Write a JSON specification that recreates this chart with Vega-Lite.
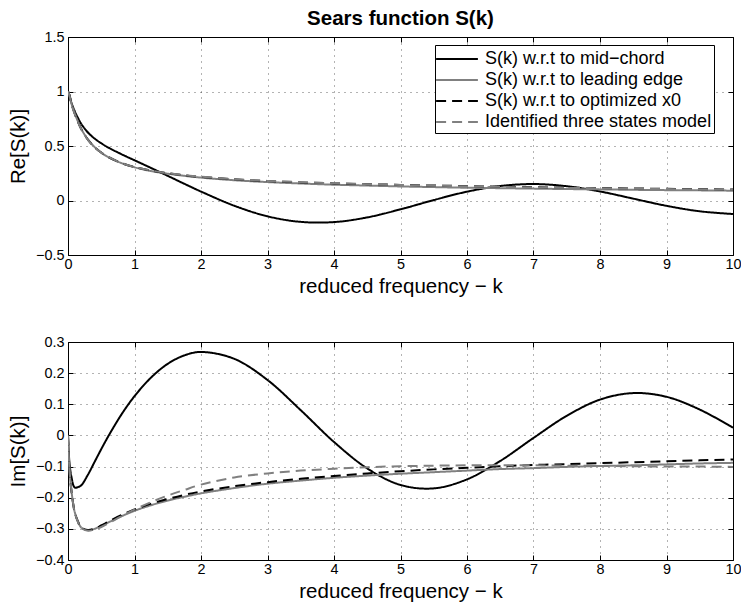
{
  "$schema": "https://vega.github.io/schema/vega-lite/v6.json",
  "padding": {"left": 8, "top": 8, "right": 5, "bottom": 2},
  "background": "white",
  "config": {
    "font": "Liberation Sans",
    "view": {"stroke": "black", "strokeWidth": 1},
    "axis": {
      "labelFont": "Liberation Sans", "labelFontSize": 14.4, "labelColor": "black",
      "titleFont": "Liberation Sans", "titleFontSize": 20.5, "titleFontWeight": "normal", "titleColor": "black",
      "tickColor": "black", "tickSize": -5, "tickWidth": 1, "domain": false,
      "gridColor": "black", "gridDash": [1, 5], "gridOpacity": 0.6, "gridWidth": 1,
      "labelFlush": false, "labelOverlap": false, "labelBound": false
    },
    "axisX": {"labelPadding": 7, "titlePadding": 6},
    "axisY": {"labelPadding": 9, "titlePadding": 7},
    "concat": {"spacing": 35}
  },
  "datasets": {
    "sears": [
      {"k":0,"s":"S(k) w.r.t to mid−chord","re":1,"im":0},
      {"k":0.02,"s":"S(k) w.r.t to mid−chord","re":0.971,"im":-0.083},
      {"k":0.05,"s":"S(k) w.r.t to mid−chord","re":0.901,"im":-0.131},
      {"k":0.1,"s":"S(k) w.r.t to mid−chord","re":0.821,"im":-0.167},
      {"k":0.15,"s":"S(k) w.r.t to mid−chord","re":0.757,"im":-0.166},
      {"k":0.2,"s":"S(k) w.r.t to mid−chord","re":0.702,"im":-0.160},
      {"k":0.3,"s":"S(k) w.r.t to mid−chord","re":0.624,"im":-0.126},
      {"k":0.4,"s":"S(k) w.r.t to mid−chord","re":0.568,"im":-0.085},
      {"k":0.5,"s":"S(k) w.r.t to mid−chord","re":0.525,"im":-0.044},
      {"k":0.6,"s":"S(k) w.r.t to mid−chord","re":0.488,"im":-0.005},
      {"k":0.8,"s":"S(k) w.r.t to mid−chord","re":0.426,"im":0.066},
      {"k":1,"s":"S(k) w.r.t to mid−chord","re":0.369,"im":0.126},
      {"k":1.25,"s":"S(k) w.r.t to mid−chord","re":0.298,"im":0.186},
      {"k":1.5,"s":"S(k) w.r.t to mid−chord","re":0.226,"im":0.230},
      {"k":1.75,"s":"S(k) w.r.t to mid−chord","re":0.153,"im":0.257},
      {"k":2,"s":"S(k) w.r.t to mid−chord","re":0.082,"im":0.268},
      {"k":2.5,"s":"S(k) w.r.t to mid−chord","re":-0.048,"im":0.246},
      {"k":3,"s":"S(k) w.r.t to mid−chord","re":-0.145,"im":0.178},
      {"k":3.5,"s":"S(k) w.r.t to mid−chord","re":-0.196,"im":0.081},
      {"k":4,"s":"S(k) w.r.t to mid−chord","re":-0.198,"im":-0.021},
      {"k":4.5,"s":"S(k) w.r.t to mid−chord","re":-0.155,"im":-0.106},
      {"k":5,"s":"S(k) w.r.t to mid−chord","re":-0.081,"im":-0.159},
      {"k":5.5,"s":"S(k) w.r.t to mid−chord","re":0.004,"im":-0.170},
      {"k":6,"s":"S(k) w.r.t to mid−chord","re":0.081,"im":-0.141},
      {"k":6.5,"s":"S(k) w.r.t to mid−chord","re":0.133,"im":-0.082},
      {"k":7,"s":"S(k) w.r.t to mid−chord","re":0.151,"im":-0.008},
      {"k":7.5,"s":"S(k) w.r.t to mid−chord","re":0.131,"im":0.063},
      {"k":8,"s":"S(k) w.r.t to mid−chord","re":0.083,"im":0.115},
      {"k":8.5,"s":"S(k) w.r.t to mid−chord","re":0.017,"im":0.136},
      {"k":9,"s":"S(k) w.r.t to mid−chord","re":-0.049,"im":0.124},
      {"k":9.5,"s":"S(k) w.r.t to mid−chord","re":-0.099,"im":0.083},
      {"k":10,"s":"S(k) w.r.t to mid−chord","re":-0.124,"im":0.025},

      {"k":0,"s":"S(k) w.r.t to leading edge","re":1,"im":0},
      {"k":0.02,"s":"S(k) w.r.t to leading edge","re":0.969,"im":-0.102},
      {"k":0.05,"s":"S(k) w.r.t to leading edge","re":0.894,"im":-0.175},
      {"k":0.1,"s":"S(k) w.r.t to leading edge","re":0.801,"im":-0.245},
      {"k":0.15,"s":"S(k) w.r.t to leading edge","re":0.724,"im":-0.276},
      {"k":0.2,"s":"S(k) w.r.t to leading edge","re":0.656,"im":-0.296},
      {"k":0.3,"s":"S(k) w.r.t to leading edge","re":0.559,"im":-0.304},
      {"k":0.4,"s":"S(k) w.r.t to leading edge","re":0.490,"im":-0.300},
      {"k":0.5,"s":"S(k) w.r.t to leading edge","re":0.439,"im":-0.290},
      {"k":0.6,"s":"S(k) w.r.t to leading edge","re":0.400,"im":-0.280},
      {"k":0.8,"s":"S(k) w.r.t to leading edge","re":0.344,"im":-0.260},
      {"k":1,"s":"S(k) w.r.t to leading edge","re":0.305,"im":-0.242},
      {"k":1.25,"s":"S(k) w.r.t to leading edge","re":0.270,"im":-0.224},
      {"k":1.5,"s":"S(k) w.r.t to leading edge","re":0.246,"im":-0.209},
      {"k":1.75,"s":"S(k) w.r.t to leading edge","re":0.226,"im":-0.197},
      {"k":2,"s":"S(k) w.r.t to leading edge","re":0.210,"im":-0.186},
      {"k":2.5,"s":"S(k) w.r.t to leading edge","re":0.186,"im":-0.169},
      {"k":3,"s":"S(k) w.r.t to leading edge","re":0.169,"im":-0.155},
      {"k":3.5,"s":"S(k) w.r.t to leading edge","re":0.156,"im":-0.145},
      {"k":4,"s":"S(k) w.r.t to leading edge","re":0.145,"im":-0.136},
      {"k":4.5,"s":"S(k) w.r.t to leading edge","re":0.137,"im":-0.129},
      {"k":5,"s":"S(k) w.r.t to leading edge","re":0.129,"im":-0.123},
      {"k":5.5,"s":"S(k) w.r.t to leading edge","re":0.123,"im":-0.118},
      {"k":6,"s":"S(k) w.r.t to leading edge","re":0.117,"im":-0.113},
      {"k":6.5,"s":"S(k) w.r.t to leading edge","re":0.113,"im":-0.108},
      {"k":7,"s":"S(k) w.r.t to leading edge","re":0.109,"im":-0.105},
      {"k":7.5,"s":"S(k) w.r.t to leading edge","re":0.105,"im":-0.101},
      {"k":8,"s":"S(k) w.r.t to leading edge","re":0.102,"im":-0.098},
      {"k":8.5,"s":"S(k) w.r.t to leading edge","re":0.098,"im":-0.096},
      {"k":9,"s":"S(k) w.r.t to leading edge","re":0.095,"im":-0.093},
      {"k":9.5,"s":"S(k) w.r.t to leading edge","re":0.093,"im":-0.090},
      {"k":10,"s":"S(k) w.r.t to leading edge","re":0.090,"im":-0.088},

      {"k":0,"s":"S(k) w.r.t to optimized x0","re":1,"im":0},
      {"k":0.02,"s":"S(k) w.r.t to optimized x0","re":0.968,"im":-0.101},
      {"k":0.05,"s":"S(k) w.r.t to optimized x0","re":0.892,"im":-0.175},
      {"k":0.1,"s":"S(k) w.r.t to optimized x0","re":0.799,"im":-0.245},
      {"k":0.15,"s":"S(k) w.r.t to optimized x0","re":0.722,"im":-0.277},
      {"k":0.2,"s":"S(k) w.r.t to optimized x0","re":0.655,"im":-0.296},
      {"k":0.3,"s":"S(k) w.r.t to optimized x0","re":0.558,"im":-0.304},
      {"k":0.4,"s":"S(k) w.r.t to optimized x0","re":0.490,"im":-0.299},
      {"k":0.5,"s":"S(k) w.r.t to optimized x0","re":0.440,"im":-0.289},
      {"k":0.6,"s":"S(k) w.r.t to optimized x0","re":0.401,"im":-0.278},
      {"k":0.8,"s":"S(k) w.r.t to optimized x0","re":0.345,"im":-0.256},
      {"k":1,"s":"S(k) w.r.t to optimized x0","re":0.307,"im":-0.238},
      {"k":1.25,"s":"S(k) w.r.t to optimized x0","re":0.274,"im":-0.219},
      {"k":1.5,"s":"S(k) w.r.t to optimized x0","re":0.250,"im":-0.204},
      {"k":1.75,"s":"S(k) w.r.t to optimized x0","re":0.231,"im":-0.191},
      {"k":2,"s":"S(k) w.r.t to optimized x0","re":0.216,"im":-0.180},
      {"k":2.5,"s":"S(k) w.r.t to optimized x0","re":0.194,"im":-0.163},
      {"k":3,"s":"S(k) w.r.t to optimized x0","re":0.178,"im":-0.150},
      {"k":3.5,"s":"S(k) w.r.t to optimized x0","re":0.166,"im":-0.139},
      {"k":4,"s":"S(k) w.r.t to optimized x0","re":0.157,"im":-0.130},
      {"k":4.5,"s":"S(k) w.r.t to optimized x0","re":0.150,"im":-0.122},
      {"k":5,"s":"S(k) w.r.t to optimized x0","re":0.143,"im":-0.115},
      {"k":5.5,"s":"S(k) w.r.t to optimized x0","re":0.137,"im":-0.109},
      {"k":6,"s":"S(k) w.r.t to optimized x0","re":0.132,"im":-0.104},
      {"k":6.5,"s":"S(k) w.r.t to optimized x0","re":0.127,"im":-0.099},
      {"k":7,"s":"S(k) w.r.t to optimized x0","re":0.122,"im":-0.095},
      {"k":7.5,"s":"S(k) w.r.t to optimized x0","re":0.118,"im":-0.092},
      {"k":8,"s":"S(k) w.r.t to optimized x0","re":0.114,"im":-0.089},
      {"k":8.5,"s":"S(k) w.r.t to optimized x0","re":0.110,"im":-0.086},
      {"k":9,"s":"S(k) w.r.t to optimized x0","re":0.107,"im":-0.083},
      {"k":9.5,"s":"S(k) w.r.t to optimized x0","re":0.104,"im":-0.080},
      {"k":10,"s":"S(k) w.r.t to optimized x0","re":0.101,"im":-0.077},

      {"k":0,"s":"Identified three states model","re":1,"im":0},
      {"k":0.02,"s":"Identified three states model","re":0.967,"im":-0.100},
      {"k":0.05,"s":"Identified three states model","re":0.890,"im":-0.174},
      {"k":0.1,"s":"Identified three states model","re":0.797,"im":-0.246},
      {"k":0.15,"s":"Identified three states model","re":0.721,"im":-0.278},
      {"k":0.2,"s":"Identified three states model","re":0.654,"im":-0.297},
      {"k":0.3,"s":"Identified three states model","re":0.557,"im":-0.306},
      {"k":0.4,"s":"Identified three states model","re":0.489,"im":-0.302},
      {"k":0.5,"s":"Identified three states model","re":0.439,"im":-0.294},
      {"k":0.6,"s":"Identified three states model","re":0.401,"im":-0.283},
      {"k":0.8,"s":"Identified three states model","re":0.345,"im":-0.260},
      {"k":1,"s":"Identified three states model","re":0.307,"im":-0.238},
      {"k":1.25,"s":"Identified three states model","re":0.275,"im":-0.214},
      {"k":1.5,"s":"Identified three states model","re":0.251,"im":-0.193},
      {"k":1.75,"s":"Identified three states model","re":0.233,"im":-0.175},
      {"k":2,"s":"Identified three states model","re":0.218,"im":-0.158},
      {"k":2.5,"s":"Identified three states model","re":0.196,"im":-0.135},
      {"k":3,"s":"Identified three states model","re":0.180,"im":-0.122},
      {"k":3.5,"s":"Identified three states model","re":0.168,"im":-0.113},
      {"k":4,"s":"Identified three states model","re":0.158,"im":-0.107},
      {"k":4.5,"s":"Identified three states model","re":0.150,"im":-0.102},
      {"k":5,"s":"Identified three states model","re":0.143,"im":-0.099},
      {"k":5.5,"s":"Identified three states model","re":0.136,"im":-0.097},
      {"k":6,"s":"Identified three states model","re":0.130,"im":-0.096},
      {"k":6.5,"s":"Identified three states model","re":0.125,"im":-0.096},
      {"k":7,"s":"Identified three states model","re":0.120,"im":-0.096},
      {"k":7.5,"s":"Identified three states model","re":0.116,"im":-0.097},
      {"k":8,"s":"Identified three states model","re":0.112,"im":-0.098},
      {"k":8.5,"s":"Identified three states model","re":0.108,"im":-0.099},
      {"k":9,"s":"Identified three states model","re":0.105,"im":-0.100},
      {"k":9.5,"s":"Identified three states model","re":0.102,"im":-0.100},
      {"k":10,"s":"Identified three states model","re":0.099,"im":-0.101}
    ]
  },
  "vconcat": [
    {
      "width": 665,
      "height": 218,
      "title": {"text": "Sears function S(k)", "fontSize": 20.5, "fontWeight": "bold", "font": "Liberation Sans", "anchor": "middle", "frame": "group", "offset": 0, "color": "black"},
      "data": {"name": "sears"},
      "layer": [
        {
          "mark": {"type": "line", "strokeWidth": 2, "interpolate": "catmull-rom", "clip": true},
          "encoding": {
            "x": {"field": "k", "type": "quantitative", "scale": {"domain": [0, 10], "nice": false},
                  "axis": {"orient": "bottom", "values": [0,1,2,3,4,5,6,7,8,9,10], "format": "d", "title": "reduced frequency − k", "grid": true}},
            "y": {"field": "re", "type": "quantitative", "scale": {"domain": [-0.5, 1.5], "nice": false},
                  "axis": {"orient": "left", "values": [-0.5, 0, 0.5, 1, 1.5], "format": "~g", "title": "Re[S(k)]", "grid": true}},
            "color": {"field": "s", "type": "nominal",
                      "scale": {"domain": ["S(k) w.r.t to mid−chord", "S(k) w.r.t to leading edge", "S(k) w.r.t to optimized x0", "Identified three states model"], "range": ["black", "#808080", "black", "#808080"]},
                      "legend": {"title": null, "orient": "none", "legendX": 367, "legendY": 8, "direction": "vertical", "fillColor": "white", "strokeColor": "black", "padding": 2, "symbolType": "M-1.9,0H1.9", "symbolSize": 484, "symbolOffset": 8, "symbolStrokeWidth": 2, "labelFontSize": 18, "labelFont": "Liberation Sans", "labelColor": "black", "labelOffset": 16, "rowPadding": 0, "labelLimit": 0}},
            "strokeDash": {"field": "s", "type": "nominal",
                      "scale": {"domain": ["S(k) w.r.t to mid−chord", "S(k) w.r.t to leading edge", "S(k) w.r.t to optimized x0", "Identified three states model"], "range": [[1, 0], [1, 0], [10, 6], [10, 6]]},
                      "legend": {"title": null, "orient": "none", "legendX": 367, "legendY": 8, "direction": "vertical", "fillColor": "white", "strokeColor": "black", "padding": 2, "symbolType": "M-1.9,0H1.9", "symbolSize": 484, "symbolOffset": 8, "symbolStrokeWidth": 2, "labelFontSize": 18, "labelFont": "Liberation Sans", "labelColor": "black", "labelOffset": 16, "rowPadding": 0, "labelLimit": 0}}
          }
        },
        {
          "mark": {"type": "line", "opacity": 0},
          "encoding": {
            "x": {"field": "k", "type": "quantitative", "scale": {"domain": [0, 10], "nice": false},
                  "axis": {"orient": "top", "values": [0,1,2,3,4,5,6,7,8,9,10], "labels": false, "title": null, "grid": false}},
            "y": {"field": "re", "type": "quantitative", "scale": {"domain": [-0.5, 1.5], "nice": false},
                  "axis": {"orient": "right", "values": [-0.5, 0, 0.5, 1, 1.5], "labels": false, "title": null, "grid": false}}
          }
        }
      ],
      "resolve": {"axis": {"x": "independent", "y": "independent"}}
    },
    {
      "width": 665,
      "height": 218,
      "data": {"name": "sears"},
      "layer": [
        {
          "mark": {"type": "line", "strokeWidth": 2, "interpolate": "catmull-rom", "clip": true},
          "encoding": {
            "x": {"field": "k", "type": "quantitative", "scale": {"domain": [0, 10], "nice": false},
                  "axis": {"orient": "bottom", "values": [0,1,2,3,4,5,6,7,8,9,10], "format": "d", "title": "reduced frequency − k", "grid": true}},
            "y": {"field": "im", "type": "quantitative", "scale": {"domain": [-0.4, 0.3], "nice": false},
                  "axis": {"orient": "left", "values": [-0.4, -0.3, -0.2, -0.1, 0, 0.1, 0.2, 0.3], "format": "~g", "title": "Im[S(k)]", "grid": true}},
            "color": {"field": "s", "type": "nominal",
                      "scale": {"domain": ["S(k) w.r.t to mid−chord", "S(k) w.r.t to leading edge", "S(k) w.r.t to optimized x0", "Identified three states model"], "range": ["black", "#808080", "black", "#808080"]},
                      "legend": null},
            "strokeDash": {"field": "s", "type": "nominal",
                      "scale": {"domain": ["S(k) w.r.t to mid−chord", "S(k) w.r.t to leading edge", "S(k) w.r.t to optimized x0", "Identified three states model"], "range": [[1, 0], [1, 0], [10, 6], [10, 6]]},
                      "legend": null}
          }
        },
        {
          "mark": {"type": "line", "opacity": 0},
          "encoding": {
            "x": {"field": "k", "type": "quantitative", "scale": {"domain": [0, 10], "nice": false},
                  "axis": {"orient": "top", "values": [0,1,2,3,4,5,6,7,8,9,10], "labels": false, "title": null, "grid": false}},
            "y": {"field": "im", "type": "quantitative", "scale": {"domain": [-0.4, 0.3], "nice": false},
                  "axis": {"orient": "right", "values": [-0.4, -0.3, -0.2, -0.1, 0, 0.1, 0.2, 0.3], "labels": false, "title": null, "grid": false}}
          }
        }
      ],
      "resolve": {"axis": {"x": "independent", "y": "independent"}}
    }
  ],
  "resolve": {"legend": {"color": "independent", "strokeDash": "independent"}, "scale": {"color": "independent", "strokeDash": "independent", "y": "independent"}}
}
